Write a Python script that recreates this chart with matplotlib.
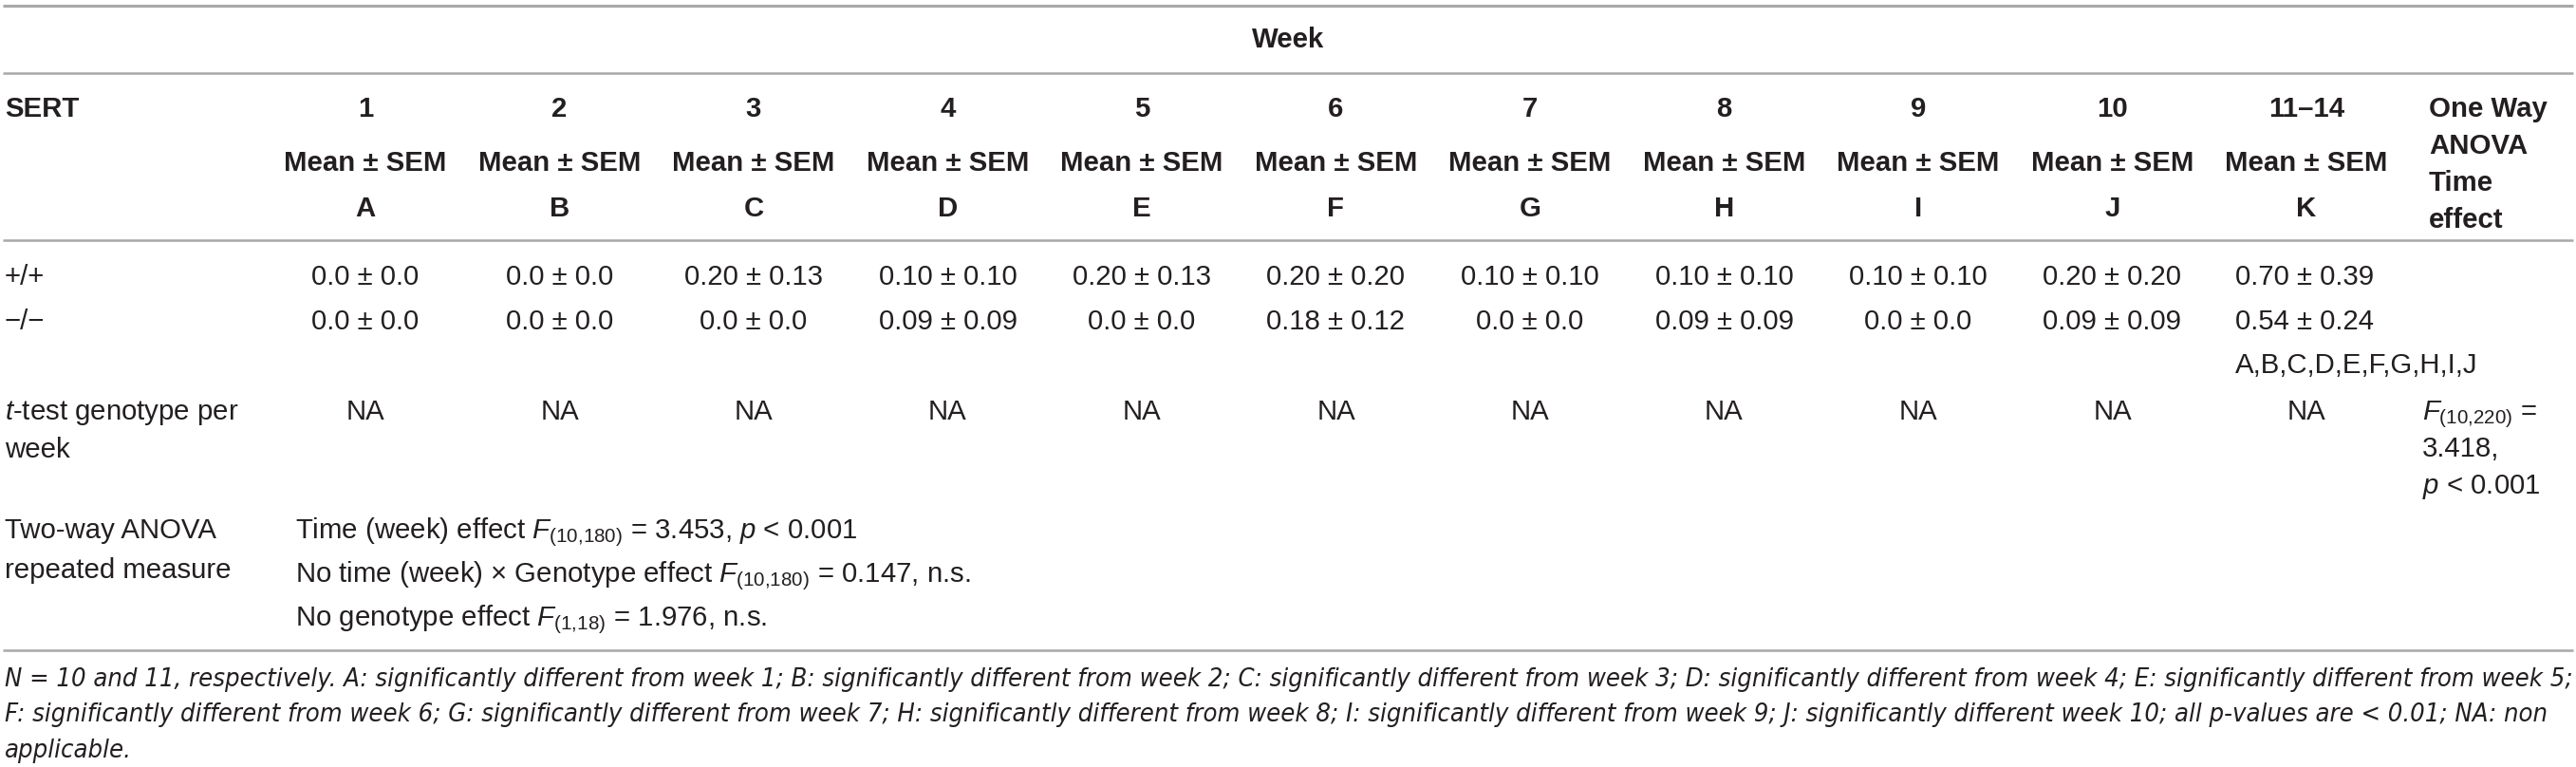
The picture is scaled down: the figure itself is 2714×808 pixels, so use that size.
import matplotlib
matplotlib.use("Agg")
import matplotlib.pyplot as plt
from matplotlib import font_manager
import numpy as np

# table content
weeks = ["1", "2", "3", "4", "5", "6", "7", "8", "9", "10", "11–14"]
letters = ["A", "B", "C", "D", "E", "F", "G", "H", "I", "J", "K"]
wt_mean = ["0.0", "0.0", "0.20", "0.10", "0.20", "0.20", "0.10", "0.10", "0.10", "0.20", "0.70"]
wt_sem = ["0.0", "0.0", "0.13", "0.10", "0.13", "0.20", "0.10", "0.10", "0.10", "0.20", "0.39"]
ko_mean = ["0.0", "0.0", "0.0", "0.09", "0.0", "0.18", "0.0", "0.09", "0.0", "0.09", "0.54"]
ko_sem = ["0.0", "0.0", "0.0", "0.09", "0.0", "0.12", "0.0", "0.09", "0.0", "0.09", "0.24"]
ttest = ["NA"] * 11
k_signif = "A,B,C,D,E,F,G,H,I,J"
genotypes = ["+/+", "−/−"]
oneway_head = ["One Way", "ANOVA", "Time", "effect"]
oneway_res = [r"$\mathit{F}_{\mathrm{(10{,}220)}}$ =", "3.418,", r"$\mathit{p}$ < 0.001"]
twoway_label = ["Two-way ANOVA", "repeated measure"]
twoway_res = [
    r"Time (week) effect $\mathit{F}_{\mathrm{(10{,}180)}}$ = 3.453, $\mathit{p}$ < 0.001",
    r"No time (week) × Genotype effect $\mathit{F}_{\mathrm{(10{,}180)}}$ = 0.147, n.s.",
    r"No genotype effect $\mathit{F}_{\mathrm{(1{,}18)}}$ = 1.976, n.s.",
]
footnote = [
    "N = 10 and 11, respectively. A: significantly different from week 1; B: significantly different from week 2; "
    "C: significantly different from week 3; D: significantly different from week 4; E: significantly different from week 5;",
    "F: significantly different from week 6; G: significantly different from week 7; H: significantly different from week 8; "
    "I: significantly different from week 9; J: significantly different week 10; all p-values are < 0.01; NA: non",
    "applicable.",
]

plt.rcParams["font.family"] = ["Liberation Sans", "DejaVu Sans"]
plt.rcParams["mathtext.fontset"] = "custom"
plt.rcParams["mathtext.rm"] = "Liberation Sans"
plt.rcParams["mathtext.it"] = "Liberation Sans:italic"
plt.rcParams["mathtext.bf"] = "Liberation Sans:bold"

ink = "#231f20"
rule = "#a8a8a8"
fs = 21.2  # ~29.5 px at dpi 100

W, H = 2714, 808
fig = plt.figure(figsize=(W / 100, H / 100), dpi=100)
ax = fig.add_axes([0, 0, 1, 1])
ax.set_xlim(0, W)
ax.set_ylim(H, 0)
ax.axis("off")

cols = 385 + 204.5 * np.arange(len(weeks))
x_left = 5


def put(x, y, s, ha="center", bold=False, **kw):
    return ax.text(x, y, s, ha=ha, va="baseline", fontsize=kw.pop("size", fs),
                   fontweight="bold" if bold else "normal", color=ink, **kw)


# horizontal rules
for yy, lw in [(6, 2.2), (77, 1.8), (253, 1.8), (685, 1.8)]:
    ax.plot([3, W - 3], [yy, yy], color=rule, lw=lw, solid_capstyle="butt")

put(W / 2, 50, "Week", bold=True)
put(x_left, 123, "SERT", ha="left", bold=True)

for i, (wk, lt) in enumerate(zip(weeks, letters)):
    put(cols[i], 123, wk, bold=True)
    put(cols[i], 180, "Mean ± SEM", bold=True)
    put(cols[i], 228, lt, bold=True)

for j, line in enumerate(oneway_head):
    put(2559, 123 + j * 39, line, ha="left", bold=True)

# genotype rows
put(x_left, 300, genotypes[0], ha="left")
put(x_left, 347, genotypes[1], ha="left")
last = len(weeks) - 1
for i in range(len(weeks)):
    a = f"{wt_mean[i]} ± {wt_sem[i]}"
    b = f"{ko_mean[i]} ± {ko_sem[i]}"
    if i == last:
        put(cols[i] - 75, 300, a, ha="left")
        put(cols[i] - 75, 347, b, ha="left")
    else:
        put(cols[i], 300, a)
        put(cols[i], 347, b)
put(cols[last] - 75, 393, k_signif, ha="left")

# t-test row
put(x_left, 442, r"$\mathit{t}$-test genotype per", ha="left")
put(x_left, 482, "week", ha="left")
for i, s in enumerate(ttest):
    put(cols[i], 442, s)
for j, s in enumerate(oneway_res):
    put(2552, 442 + j * 39, s, ha="left")

# two-way ANOVA
put(x_left, 567, twoway_label[0], ha="left")
put(x_left, 609, twoway_label[1], ha="left")
for j, s in enumerate(twoway_res):
    put(311, 567 + j * 46, s, ha="left")

# footnote: condensed italic if one is installed, fitted to the width
cond = [f for f in font_manager.fontManager.ttflist
        if f.style in ("italic", "oblique")
        and ("condensed" in str(f.stretch) or "Narrow" in f.name or "Condensed" in f.name)]
cond.sort(key=lambda f: ("Sans" not in f.name, f.weight != 400))
if cond:
    fprop = font_manager.FontProperties(fname=cond[0].fname)
    fts = [ax.text(x_left, 723 + j * 37.5, s, ha="left", va="baseline", color=ink,
                   fontproperties=fprop) for j, s in enumerate(footnote)]
else:
    fts = [put(x_left, 723 + j * 37.5, s, ha="left", style="italic")
           for j, s in enumerate(footnote)]
for t in fts:
    t.set_fontsize(fs)
fig.canvas.draw()
r = fig.canvas.get_renderer()
wpx = fts[0].get_window_extent(r).width
new_fs = min(fs * 1.05, fs * (2702 - x_left) / wpx)
for t in fts:
    t.set_fontsize(new_fs)

fig.savefig("out.png", dpi=100, facecolor="white")
